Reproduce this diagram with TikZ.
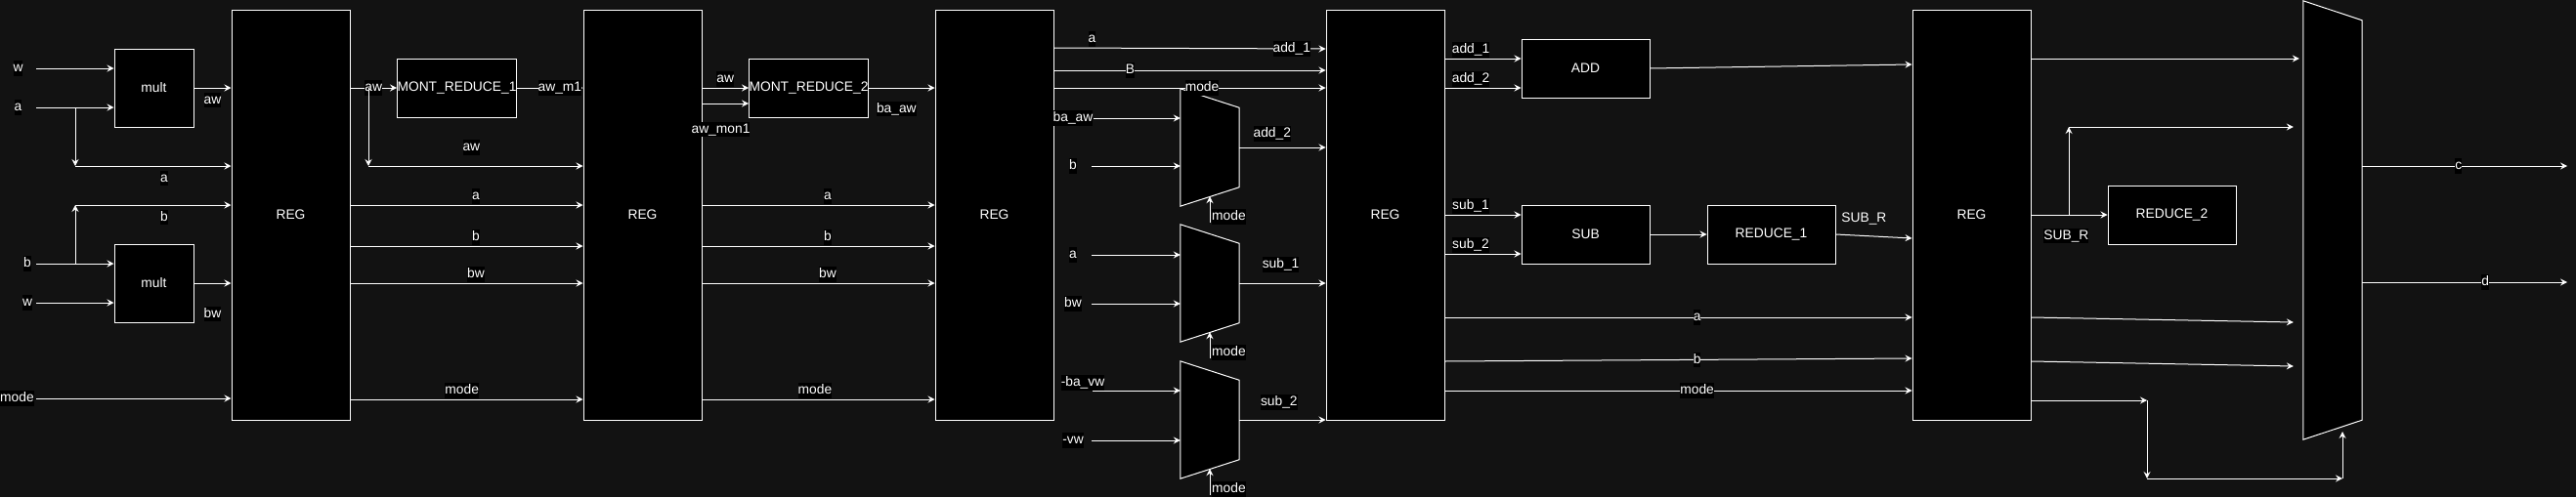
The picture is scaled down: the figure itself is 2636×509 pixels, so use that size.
\documentclass[tikz,border=0pt]{standalone}
\usepackage{fontspec}
\setmainfont{Liberation Sans}
\usetikzlibrary{arrows.meta,calc,positioning}
\definecolor{hwbg}{HTML}{121212}
\tikzset{
  hwblock/.style={draw=white,fill=black,text=white,line width=1pt,inner sep=0pt,minimum width=121pt,minimum height=60pt},
  hwreg/.style={hwblock,minimum height=420pt},
  hwmult/.style={hwblock,minimum width=81pt,minimum height=80pt},
  hwwide/.style={hwblock,minimum width=131pt},
  muxslot/.style={inner sep=0pt,minimum width=60pt,minimum height=120pt},
  muxbody/.style={draw=white,fill=black,line width=1pt,line join=miter},
  sig/.style={-{Stealth[length=7pt,width=7pt,inset=2.5pt]},draw=white,line width=1pt},
  lbl/.style={fill=black,text=white,inner xsep=0pt,inner ysep=1pt,text height=10.5pt,text depth=3pt},
  txtonly/.style={text=white,inner xsep=0pt,inner ysep=1pt,text height=10.5pt,text depth=3pt}
}

\begin{document}
\begin{tikzpicture}[x=1pt,y=-1pt,font=\fontsize{13.8}{16}\selectfont]
\fill[hwbg] (0,0) rectangle (2636,509);
\useasboundingbox (0,0) rectangle (2636,509);

% stage 0: inputs, multipliers
\node[hwmult] (mul1) at (157.5,90) {mult};
\node[hwmult] (mul2) at (157.5,290) {mult};
\node[hwreg] (reg1) at (297.5,220) {REG};
\node[lbl] (iw1) at (18.5,70) {w};
\node[lbl] (ia) at (18.5,110) {a};
\node[lbl] (ib) at (28,270) {b};
\node[lbl] (iw2) at (28,310) {w};
\node[lbl] (imode) at (17.5,408) {mode};
\draw[sig] ($(iw1)+(18.5,0)$) -- (mul1.west |- iw1);
\draw[sig] ($(ia)+(18.5,0)$) -- (mul1.west |- ia);
\draw[sig] ($(ib)+(9,0)$) -- (mul2.west |- ib);
\draw[sig] ($(iw2)+(9,0)$) -- (mul2.west |- iw2);
\coordinate (abr) at (77,110);
\coordinate (adn) at (77,170);
\coordinate (bbr) at (77,270);
\coordinate (bup) at (77,210);
\draw[sig] (abr) -- (adn);
\draw[sig] (adn) -- (reg1.west |- adn) node[lbl,pos=0.57,below=4pt]{a};
\draw[sig] (bbr) -- (bup);
\draw[sig] (bup) -- (reg1.west |- bup) node[lbl,pos=0.57,below=4pt]{b};
\draw[sig] (mul1.east) -- (reg1.west |- mul1.east) node[lbl,midway,below=4pt]{aw};
\draw[sig] (mul2.east) -- (reg1.west |- mul2.east) node[lbl,midway,below=23pt]{bw};
\draw[sig] ($(imode)+(19.5,0)$) -- (reg1.west |- imode);

% stage 1: first reduction
\node[hwblock] (mr1) at (467.5,90) {MONT\_REDUCE\_1};
\node[hwreg] (reg2) at (657.5,220) {REG};
\draw[sig] (reg1.east |- mr1.west) -- (mr1.west) node[lbl,midway]{aw};
\coordinate (awbr) at (377,90);
\coordinate (awdn) at (377,170);
\draw[sig] (awbr) -- (awdn);
\draw[sig] (awdn) -- (reg2.west |- awdn) node[lbl,pos=0.48,above=11pt]{aw};
\draw[sig] (mr1.east) -- (reg2.west |- mr1.east) node[lbl,pos=0.65]{aw\_m1};
\foreach \yy/\sn/\pp in {210/a/0.54,252/b/0.54,290/bw/0.54,409/mode/0.48}
  \draw[sig] (reg1.east |- 0,\yy) -- (reg2.west |- 0,\yy) node[lbl,pos=\pp,above=1pt]{\sn};

% stage 2: second reduction
\node[hwblock] (mr2) at (827.5,90) {MONT\_REDUCE\_2};
\node[hwreg] (reg3) at (1017.5,220) {REG};
\draw[sig] (reg2.east |- mr2.west) -- (mr2.west) node[lbl,midway,above=1pt]{aw};
\draw[sig] (reg2.east |- 0,106) -- (mr2.west |- 0,106) node[lbl,pos=0.4,below=18pt]{aw\_mon1};
\draw[sig] (mr2.east) -- (reg3.west |- mr2.east) node[lbl,pos=0.42,below=13pt]{ba\_aw};
\foreach \yy/\sn/\pp in {210/a/0.54,252/b/0.54,290/bw/0.54,409/mode/0.485}
  \draw[sig] (reg2.east |- 0,\yy) -- (reg3.west |- 0,\yy) node[lbl,pos=\pp,above=1pt]{\sn};

% stage 3: operand muxes
\node[muxslot] (m1) at (1238,151) {};
\node[muxslot] (m2) at (1238,290) {};
\node[muxslot] (m3) at (1238,430) {};
\node[hwreg] (reg4) at (1417.5,220) {REG};
\foreach \m in {m1,m2,m3}{
  \draw[muxbody] (\m.north west) -- ($(\m.north east)+(0,19.5)$) -- ($(\m.south east)+(0,-19.5)$) -- (\m.south west) -- cycle;
  \draw[sig] ($(\m.south)+(0,17)$) -- ($(\m.south)+(0,-10)$);
  \node[lbl,anchor=west] (sel\m) at ($(\m.south)+(2,11)$) {mode};
}
\draw[sig] (reg3.east |- 0,49) -- (reg4.west |- 0,50) node[lbl,pos=0.14,above=1pt]{a} node[lbl,pos=0.875]{add\_1};
\draw[sig] (reg3.east |- 0,72) -- (reg4.west |- 0,72) node[lbl,pos=0.28]{B};
\draw[sig] (reg3.east |- 0,90) -- (reg4.west |- 0,90) node[lbl,pos=0.545]{mode};
\node[lbl] (ibaaw) at (1098,121) {ba\_aw};
\node[lbl] (ib3) at (1098,170) {b};
\node[lbl] (ia3) at (1098,261) {a};
\node[lbl] (ibw3) at (1098,311) {bw};
\node[lbl] (inbavw) at (1108,392) {-ba\_vw};
\node[lbl] (invw) at (1098,451) {-vw};
\draw[sig] (ibaaw.east) -- (m1.west |- ibaaw);
\draw[sig] ($(ib3)+(19,0)$) -- (m1.west |- ib3);
\draw[sig] ($(ia3)+(19,0)$) -- (m2.west |- ia3);
\draw[sig] ($(ibw3)+(19,0)$) -- (m2.west |- ibw3);
\draw[sig] ($(inbavw)+(10,8)$) -- (m3.west |- 0,400);
\draw[sig] ($(invw)+(19,0)$) -- (m3.west |- invw);
\draw[sig] (m1.east) -- (reg4.west |- m1.east) node[lbl,pos=0.38,above=6pt]{add\_2};
\draw[sig] (m2.east) -- (reg4.west |- m2.east) node[lbl,pos=0.48,above=11pt]{sub\_1};
\draw[sig] (m3.east) -- (reg4.west |- m3.east) node[lbl,pos=0.46,above=10pt]{sub\_2};

% stage 4: add / sub
\node[hwwide] (add) at (1622.5,70) {ADD};
\node[hwwide] (sub) at (1622.5,240) {SUB};
\node[hwwide] (red1) at (1812.5,240) {REDUCE\_1};
\node[hwreg] (reg5) at (2017.5,220) {REG};
\foreach \yy/\sn/\dst in {60/add\_1/add,90/add\_2/add,220/sub\_1/sub,260/sub\_2/sub}
  \draw[sig] (reg4.east |- 0,\yy) -- (\dst.west |- 0,\yy) node[lbl,pos=0.34,above=1pt]{\sn};
\draw[sig] (sub) -- (red1);
\draw[sig] (red1.east) -- (reg5.west |- 0,244) node[txtonly,pos=0.37,above=9pt]{SUB\_R};
\draw[sig] (add.east) -- (reg5.west |- 0,66);
\foreach \ya/\yb/\sn in {325/325/a,370/367/b,400/400/mode}
  \draw[sig] (reg4.east |- 0,\ya) -- (reg5.west |- 0,\yb) node[lbl,pos=0.54]{\sn};

% stage 5: final reduction and output mux
\node[hwwide] (red2) at (2222.5,220) {REDUCE\_2};
\node[muxslot,minimum height=449pt] (fm) at (2387,225.5) {};
\draw[muxbody] (fm.north west) -- ($(fm.north east)+(0,20)$) -- ($(fm.south east)+(0,-20)$) -- (fm.south west) -- cycle;
\draw[sig] (reg5.east |- 0,60) -- ($(fm.west |- 0,60)+(-4,0)$);
\draw[sig] (reg5.east |- red2.west) -- (red2.west) node[lbl,pos=0.46,below=13pt]{SUB\_R};
\coordinate (srbr) at (2117,220);
\coordinate (srup) at (2117,130);
\draw[sig] (srbr) -- (srup);
\draw[sig] (srup) -- ($(fm.west |- srup)+(-10,0)$);
\draw[sig] (reg5.east |- 0,325) -- ($(fm.west |- 0,330)+(-10,0)$);
\draw[sig] (reg5.east |- 0,370) -- ($(fm.west |- 0,375)+(-10,0)$);
\coordinate (md1) at (2197,410);
\coordinate (md2) at (2197,490);
\coordinate (md3) at (2397,490);
\coordinate (md4) at (2397,442);
\draw[sig] (reg5.east |- md1) -- (md1);
\draw[sig] (md1) -- (md2);
\draw[sig] (md2) -- (md3);
\draw[sig] (md3) -- (md4);
\coordinate (outc) at (2627,170);
\coordinate (outd) at (2627,289);
\draw[sig] (fm.east |- outc) -- (outc) node[lbl,pos=0.47]{c};
\draw[sig] (fm.east |- outd) -- (outd) node[lbl,pos=0.6]{d};
\end{tikzpicture}
\end{document}
